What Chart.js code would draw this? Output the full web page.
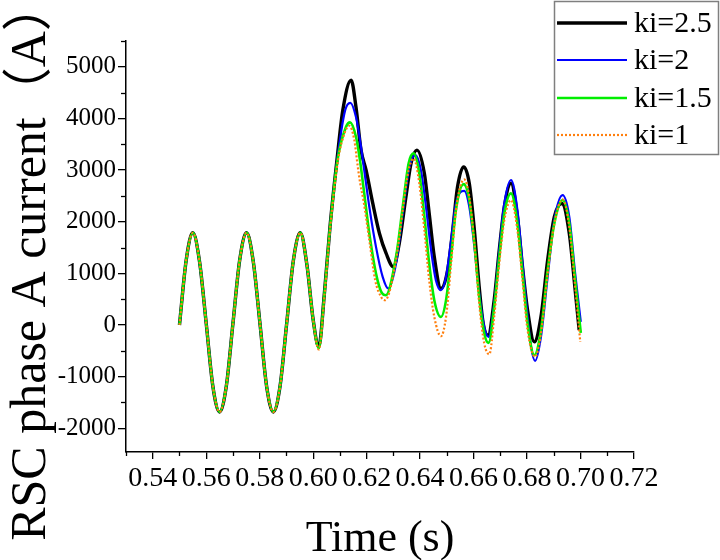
<!DOCTYPE html>
<html>
<head>
<meta charset="utf-8">
<script src="https://cdn.jsdelivr.net/npm/chart.js@4/dist/chart.umd.min.js"></script>
<style>
  html, body { margin: 0; padding: 0; background: #fff; }
  #wrap { width: 720px; height: 560px; position: relative; }
</style>
</head>
<body>
<div id="wrap"><canvas id="c" width="720" height="560"></canvas></div>
<script>
// ---- data ----
const seriesLabels = ['ki=2.5', 'ki=2', 'ki=1.5', 'ki=1'];

// common part (all four curves coincide)
const sharedT = [0.5500,0.5525,0.5550,0.5575,0.5600,0.5625,0.5650,0.5675,0.5700,0.5725,0.5751,0.5776,0.5801,0.5826,0.5851,0.5876,0.5901,0.5926,0.5952,0.5977,0.6000];
const sharedI = [0,1250,1785,1230,30,-1190,-1684,-1190,30,1250,1785,1230,30,-1190,-1684,-1190,30,1250,1785,1150,100];

// ki=2.5
const t25 = [0.6021,0.6042,0.6063,0.6089,0.6111,0.6142,0.6160,0.6179,0.6198,0.6223,0.6248,0.6273,0.6300,0.6322,0.6347,0.6366,0.6388,0.6416,0.6434,0.6453,0.6478,0.6503,0.6522,0.6540,0.6563,0.6584,0.6603,0.6621,0.6636,0.6654,0.6677,0.6696,0.6715,0.6740,0.6764,0.6783,0.6802,0.6827,0.6852,0.6877,0.6902,0.6930,0.6958,0.6980,0.6995];
const i25 = [-424,610,1901,3193,4162,4743,4226,3387,2999,2354,1773,1385,1126,1579,2482,3129,3387,2935,2160,1320,707,1062,1837,2676,3063,2742,1837,738,29,-198,480,1449,2288,2742,2095,1126,287,-327,157,1256,2095,2354,1773,674,-101];

// ki=2
const t20 = [0.6021,0.6042,0.6063,0.6090,0.6120,0.6139,0.6160,0.6179,0.6191,0.6210,0.6235,0.6260,0.6281,0.6310,0.6335,0.6360,0.6382,0.6403,0.6422,0.6441,0.6459,0.6478,0.6497,0.6516,0.6534,0.6565,0.6584,0.6603,0.6621,0.6640,0.6656,0.6677,0.6696,0.6715,0.6740,0.6764,0.6783,0.6802,0.6815,0.6830,0.6852,0.6877,0.6902,0.6933,0.6958,0.6980,0.7001];
const i20 = [-440,600,1880,3193,4162,4303,4032,3452,2999,2288,1513,932,707,1192,2160,3063,3290,2999,2288,1449,868,674,932,1643,2354,2598,2288,1513,610,-37,-230,417,1449,2354,2806,2224,1192,157,-424,-695,-230,932,2030,2515,2095,997,60];

// ki=1.5
const t15 = [0.6021,0.6042,0.6063,0.6091,0.6123,0.6138,0.6160,0.6175,0.6191,0.6210,0.6235,0.6257,0.6272,0.6310,0.6335,0.6357,0.6376,0.6397,0.6416,0.6434,0.6453,0.6478,0.6497,0.6516,0.6534,0.6563,0.6584,0.6603,0.6621,0.6640,0.6656,0.6677,0.6696,0.6715,0.6740,0.6764,0.6783,0.6802,0.6827,0.6852,0.6877,0.6902,0.6933,0.6958,0.6980,0.7001];
const i15 = [-450,600,1880,3193,3839,3924,3645,3193,2548,1773,998,620,577,1320,2288,3129,3323,2935,2095,1192,481,157,481,1320,2224,2728,2418,1579,545,-165,-347,351,1320,2160,2548,1967,998,29,-585,-101,1062,1967,2418,1967,868,-153];

// ki=1
const t10 = [0.6021,0.6043,0.6064,0.6093,0.6117,0.6135,0.6154,0.6167,0.6176,0.6188,0.6210,0.6232,0.6254,0.6269,0.6310,0.6335,0.6357,0.6376,0.6397,0.6416,0.6434,0.6453,0.6478,0.6497,0.6516,0.6534,0.6565,0.6584,0.6603,0.6621,0.6640,0.6659,0.6677,0.6696,0.6715,0.6740,0.6764,0.6783,0.6802,0.6830,0.6852,0.6877,0.6902,0.6933,0.6958,0.6980,0.6999];
const i10 = [-475,610,1901,3193,3710,3858,3581,3063,2742,2418,1643,868,545,481,1256,2224,2999,3226,2742,1837,868,157,-217,157,1192,2224,2819,2482,1579,417,-358,-566,157,1192,2030,2418,1837,868,-101,-618,-165,997,1967,2431,1901,738,-327];

// axis ticks
const xTickValues = [0.54,0.56,0.58,0.60,0.62,0.64,0.66,0.68,0.70,0.72];
const xTickLabels = ['0.54','0.56','0.58','0.60','0.62','0.64','0.66','0.68','0.70','0.72'];
const xMinorTicks = [0.53,0.55,0.57,0.59,0.61,0.63,0.65,0.67,0.69,0.71];
const yTickValues = [-2000,-1000,0,1000,2000,3000,4000,5000];
const yTickLabels = ['-2000','-1000','0','1000','2000','3000','4000','5000'];
const yMinorTicks = [-1500,-500,500,1500,2500,3500,4500,5500];

// ---- build ----
function pts(ts, vs) { return ts.map((t, k) => ({x: t, y: vs[k]})); }
function full(ts, vs) { return pts(sharedT, sharedI).concat(pts(ts, vs)); }

const FONT = "'Liberation Serif', 'Times New Roman', serif";

const styles = [
  {color: '#000000', width: 3.4, dash: [], order: 4},
  {color: '#0000ff', width: 2.2, dash: [], order: 3},
  {color: '#00ee00', width: 2.6, dash: [], order: 2},
  {color: '#ff7f0e', width: 2.2, dash: [2, 2], order: 1}
];
const dataSets = [full(t25, i25), full(t20, i20), full(t15, i15), full(t10, i10)];

const datasets = dataSets.map((d, k) => ({
  label: seriesLabels[k],
  data: d,
  borderColor: styles[k].color,
  borderWidth: styles[k].width,
  borderDash: styles[k].dash,
  order: styles[k].order,
  pointRadius: 0,
  fill: false,
  cubicInterpolationMode: 'monotone'
}));

const extras = {
  id: 'extras',
  afterDraw(chart) {
    const ctx = chart.ctx;
    const xs = chart.scales.x, ys = chart.scales.y;
    const ca = chart.chartArea;
    ctx.save();
    // minor ticks
    ctx.strokeStyle = '#000';
    ctx.lineWidth = 1.3;
    xMinorTicks.forEach(v => {
      const px = Math.round(xs.getPixelForValue(v)) + 0.5;
      ctx.beginPath(); ctx.moveTo(px, ca.bottom); ctx.lineTo(px, ca.bottom + 4); ctx.stroke();
    });
    yMinorTicks.forEach(v => {
      const py = Math.round(ys.getPixelForValue(v)) + 0.5;
      ctx.beginPath(); ctx.moveTo(ca.left, py); ctx.lineTo(ca.left - 5, py); ctx.stroke();
    });
    // axis titles
    ctx.fillStyle = '#000';
    ctx.font = "44px " + FONT;
    ctx.textAlign = 'center';
    ctx.textBaseline = 'alphabetic';
    ctx.fillText('Time (s)', (ca.left + ca.right) / 2, 551);
    ctx.save();
    ctx.translate(45, 261);
    ctx.rotate(-Math.PI / 2);
    ctx.font = "50px " + FONT + ", 'Noto Sans CJK SC'";
    ctx.fillText('RSC phase A current（A）', 0, 0);
    ctx.restore();
    // legend
    const bx = 554, by = 1, bw = 165, bh = 154;
    ctx.fillStyle = '#fff';
    ctx.fillRect(bx, by, bw, bh);
    ctx.strokeStyle = '#7f7f7f';
    ctx.lineWidth = 1.5;
    ctx.strokeRect(bx + 0.5, by + 0.5, bw - 1, bh - 1);
    const rows = [23, 60, 98, 135];
    chart.data.datasets.forEach((ds, k) => {
      const y = rows[k];
      ctx.strokeStyle = ds.borderColor;
      ctx.lineWidth = ds.borderWidth;
      ctx.setLineDash(ds.borderDash || []);
      ctx.beginPath(); ctx.moveTo(557, y); ctx.lineTo(627, y); ctx.stroke();
      ctx.setLineDash([]);
      ctx.fillStyle = '#000';
      ctx.font = "30px " + FONT;
      ctx.textAlign = 'left';
      ctx.textBaseline = 'middle';
      ctx.fillText(ds.label, 634, y + 1);
    });
    ctx.restore();
  }
};

new Chart(document.getElementById('c'), {
  type: 'line',
  data: { datasets },
  options: {
    responsive: false,
    animation: false,
    layout: { padding: { left: 0, right: 86, top: 41, bottom: 0 } },
    plugins: { legend: { display: false }, tooltip: { enabled: false } },
    scales: {
      x: {
        type: 'linear',
        min: 0.53, max: 0.72,
        afterBuildTicks: s => { s.ticks = xTickValues.map(v => ({value: v})); },
        afterFit: s => { s.height = 108; },
        ticks: {
          autoSkip: false, maxRotation: 0, minRotation: 0,
          color: '#000', padding: 3,
          font: { family: FONT, size: 28 },
          callback: (v, i) => xTickLabels[i]
        },
        grid: { display: true, drawOnChartArea: false, drawTicks: true, tickLength: 7, color: '#000', lineWidth: 1.3 },
        border: { display: true, color: '#000', width: 1.5 }
      },
      y: {
        type: 'linear',
        min: -2460, max: 5500,
        afterBuildTicks: s => { s.ticks = yTickValues.map(v => ({value: v})); },
        afterFit: s => { s.width = 126; },
        ticks: {
          autoSkip: false,
          color: '#000', padding: 2,
          font: { family: FONT, size: 25 },
          callback: (v, i) => yTickLabels[i]
        },
        grid: { display: true, drawOnChartArea: false, drawTicks: true, tickLength: 8, color: '#000', lineWidth: 1.3 },
        border: { display: true, color: '#000', width: 1.5 }
      }
    }
  },
  plugins: [extras]
});
</script>
</body>
</html>
